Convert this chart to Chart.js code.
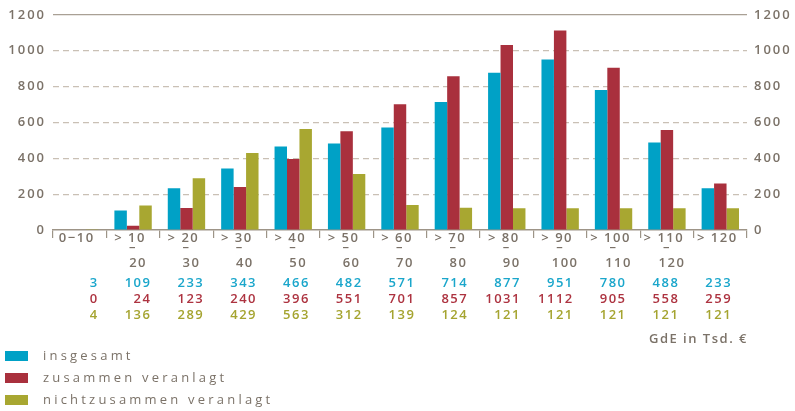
<!DOCTYPE html>
<html>
<head>
<meta charset="utf-8">
<script src="https://cdn.jsdelivr.net/npm/chart.js@4.4.1/dist/chart.umd.min.js"></script>
<style>
html,body{margin:0;padding:0;background:#ffffff;}
#wrap{width:795px;height:411px;position:relative;}
</style>
</head>
<body>
<div id="wrap"><canvas id="c" width="795" height="411"></canvas></div>
<script>
// ---- data ----
const categories = ["0−10", "> 10 − 20", "> 20 − 30", "> 30 − 40", "> 40 − 50", "> 50 − 60", "> 60 − 70",
  "> 70 − 80", "> 80 − 90", "> 90 − 100", "> 100 − 110", "> 110 − 120", "> 120"];
const insgesamt = [3, 109, 233, 343, 466, 482, 571, 714, 877, 951, 780, 488, 233];
const zusammenVeranlagt = [0, 24, 123, 240, 396, 551, 701, 857, 1031, 1112, 905, 558, 259];
const nichtZusammenVeranlagt = [4, 136, 289, 429, 563, 312, 139, 124, 121, 121, 121, 121, 121];
const seriesNames = ["insgesamt", "zusammen veranlagt", "nichtzusammen veranlagt"];
const yTicks = [0, 200, 400, 600, 800, 1000, 1200];
const unitLabel = "GdE in Tsd. €";

// ---- styles ----
const colors = ["#00a1c6", "#a9303d", "#a8a731"];
const textColors = ["#1aa6cb", "#ad3340", "#a5a430"];
const textColor = "#7b7268";
const axisColor = "#9d9487";
const FONT = '"Open Sans", "Noto Sans", sans-serif';

const series = [insgesamt, zusammenVeranlagt, nichtZusammenVeranlagt];

const spacingPlugin = {
  id: 'spacing',
  beforeDraw(chart) { chart.ctx.letterSpacing = '2px'; }
};

const tablePlugin = {
  id: 'tableText',
  afterDraw(chart) {
    const ctx = chart.ctx;
    const xs = chart.scales.x;
    ctx.save();
    ctx.textBaseline = 'middle';
    // category labels
    ctx.font = '600 13px ' + FONT;
    ctx.letterSpacing = '1.5px';
    ctx.fillStyle = textColor;
    categories.forEach((lab, i) => {
      const c = xs.getPixelForValue(i);
      const parts = lab.split(' − ');
      ctx.textAlign = 'center';
      ctx.fillText(parts[0], c - 3, 238);
      if (parts.length > 1) {
        ctx.fillText('–', c, 247);
        ctx.fillText(parts[1], c + 5, 263);
      }
    });
    // table rows
    const rowsY = [283, 299, 315];
    series.forEach((arr, s) => {
      ctx.fillStyle = textColors[s];
      ctx.textAlign = 'right';
      arr.forEach((v, i) => {
        const c = xs.getPixelForValue(i);
        ctx.fillText(String(v), c + 19 - 0.6 * i, rowsY[s]);
      });
    });
    // unit label
    ctx.fillStyle = textColor;
    ctx.textAlign = 'right';
    ctx.letterSpacing = '1.5px';
    ctx.font = '600 13px ' + FONT;
    ctx.fillText(unitLabel, chart.chartArea.right + 1, 339);
    // legend
    ctx.font = '400 13px ' + FONT;
    ctx.letterSpacing = '3.2px';
    ctx.textAlign = 'left';
    seriesNames.forEach((n, s) => {
      const y = 351 + s * 22;
      ctx.fillStyle = colors[s];
      ctx.fillRect(5, y, 23, 10);
      ctx.fillStyle = textColor;
      ctx.fillText(n, 43, y + 5);
    });
    ctx.restore();
  }
};

const tickFont = { family: FONT, size: 13, weight: '600' };
const tickFmt = (v) => String(v);

new Chart(document.getElementById('c').getContext('2d'), {
  type: 'bar',
  data: {
    labels: categories,
    datasets: series.map((arr, s) => ({
      label: seriesNames[s],
      data: arr,
      backgroundColor: colors[s],
      borderWidth: 0,
      categoryPercentage: 0.7,
      barPercentage: 1.0,
      yAxisID: 'y'
    }))
  },
  options: {
    responsive: false,
    animation: false,
    layout: { padding: { top: 14, bottom: 0, left: 0, right: 0 } },
    plugins: { legend: { display: false }, tooltip: { enabled: false } },
    scales: {
      x: {
        offset: true,
        grid: { offset: true, drawOnChartArea: false, drawTicks: true, tickLength: 8, color: axisColor, lineWidth: 1.2 },
        border: { display: true, color: axisColor, width: 1.5 },
        ticks: { display: false },
        afterFit(s) { s.height = 181; }
      },
      y: {
        position: 'left',
        min: 0, max: 1200,
        afterBuildTicks(s) { s.ticks = yTicks.map(v => ({ value: v })); },
        ticks: { color: textColor, font: tickFont, padding: 7, callback: tickFmt },
        grid: {
          drawTicks: false,
          lineWidth: 1.2,
          color: (c) => c.tick && c.tick.value === 0 ? 'rgba(0,0,0,0)' : (c.tick && c.tick.value === 1200 ? '#a9a095' : '#c9c0b5')
        },
        border: { display: false, dash: (c) => c.tick && c.tick.value === 1200 ? [] : [6, 4] },
        afterFit(s) { s.width = 53; }
      },
      y2: {
        position: 'right',
        min: 0, max: 1200,
        afterBuildTicks(s) { s.ticks = yTicks.map(v => ({ value: v })); },
        ticks: { color: textColor, font: tickFont, padding: 7, callback: tickFmt },
        grid: { drawOnChartArea: false, drawTicks: false },
        border: { display: false },
        afterFit(s) { s.width = 48; }
      }
    }
  },
  plugins: [spacingPlugin, tablePlugin]
});
</script>
</body>
</html>
